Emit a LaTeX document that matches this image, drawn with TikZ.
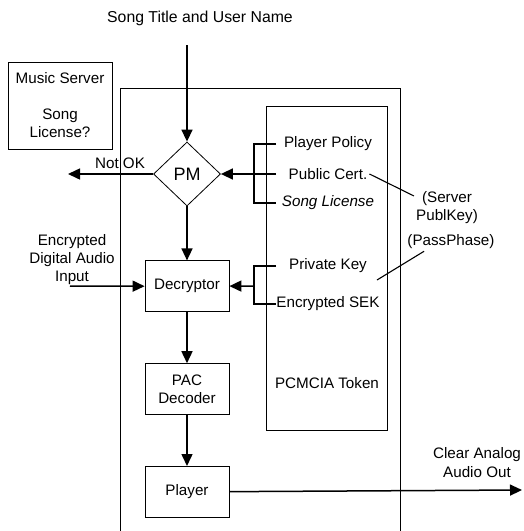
\documentclass[tikz,border=0pt]{standalone}
\usepackage{fontspec}
\setmainfont{Liberation Sans}
\usetikzlibrary{positioning, shapes.geometric, arrows.meta}

\begin{document}
\begin{tikzpicture}[x=1pt, y=-1pt,
  font=\fontsize{15.2}{18}\selectfont,
  st/.style={draw, line width=0.8pt, minimum width=84pt, minimum height=51pt, inner sep=0pt},
  dm/.style={draw, diamond, line width=0.8pt, minimum width=67pt, minimum height=64pt, inner sep=0pt},
  lbl/.style={align=center, inner sep=2pt},
  brk/.style={line width=1.1pt},
  arr/.style={-{Triangle[length=12pt, width=11pt]}, line width=1.5pt}]
\useasboundingbox (0,0) rectangle (524,531);

% player housing, open at the bottom
\draw[line width=0.8pt] (120,531) -- (120,88) -- (400,88) -- (400,531);

\node[st, minimum width=104pt, minimum height=87pt, align=center](srv) at (60,105.5)
  {Music Server\\[18pt]Song\\License?};
\node[st, minimum width=121pt, minimum height=324pt](tok) at (326.5,268) {};
\node[lbl](toklbl) at (327,383) {PCMCIA Token};

\node[lbl, font=\fontsize{15.8}{18}\selectfont](title) at (200,18) {Song Title and User Name};
\node[dm, font=\fontsize{18}{20}\selectfont](pm) at (187,174) {PM};
\node[st, below=54pt of pm](dec) {Decryptor};
\node[st, below=51pt of dec, align=center](pac) {PAC\\Decoder};
\node[st, below=51pt of pac](ply) {Player};

% token contents
\node[lbl](pp) at (328,144) {Player Policy};
\node[lbl](pc) at (328,174) {Public Cert.};
\node[lbl](sl) at (328,203) {\itshape Song License};
\node[lbl](pk) at (328,266) {Private Key};
\node[lbl](sek) at (328,304) {Encrypted SEK};
\coordinate (j1) at (254,174);
\coordinate (j2) at (254,286);
\coordinate (tk) at (276,0);

% outside labels
\node[lbl](nokl) at (120,163) {Not OK};
\node[lbl](inl) at (72,260) {Encrypted\\Digital Audio\\Input};
\node[lbl, font=\fontsize{15.2}{19}\selectfont](outl) at (477,463) {Clear Analog\\Audio Out};
\node[lbl](spk) at (447,208) {(Server\\PublKey)};
\node[lbl](pass) at (451,242) {(PassPhase)};
\coordinate (tin) at (187,45);
\coordinate (nok) at (68,174);
\coordinate (inp) at (70,286);
\coordinate (out) at (522,490);
\coordinate (pe) at (377,280);

\foreach \frm/\tto in {tin/pm, pm/dec, dec/pac, pac/ply}
  {\draw[arr](\frm)--(\tto);}
\draw[arr](pm)--(nok);
\draw[arr](inp)--(dec);
\draw[arr](ply)--(out);

\draw[brk](tk |- pp) -| (j1) |- (tk |- sl);
\draw[arr](tk |- pc)--(pm.east);
\draw[brk](tk |- pk) -| (j2) |- (tk |- sek);
\draw[arr](j2)--(dec);

\draw[brk](pc.east)--(spk.160);
\draw[brk](pass.199)--(pe);

\end{tikzpicture}
\end{document}
